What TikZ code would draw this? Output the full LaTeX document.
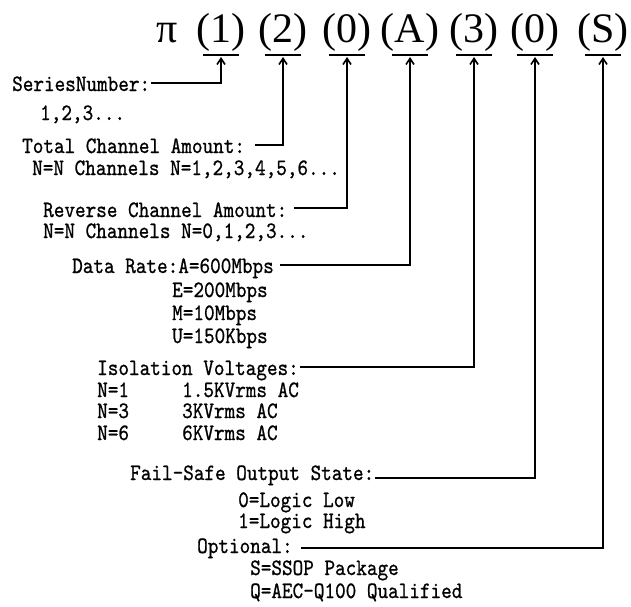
\documentclass[tikz,border=0pt]{standalone}
\usepackage{fontspec}
\setmainfont{Liberation Serif}
\newfontfamily\lblfont[FakeStretch=0.86,FakeBold=0.8]{lmmono10-regular.otf}
\usetikzlibrary{arrows.meta}
\tikzset{
  lbl/.style={anchor=base west, inner sep=0pt, font=\lblfont\fontsize{23.5}{23.5}\selectfont},
  head/.style={anchor=base, inner sep=0pt, font=\fontsize{42}{42}\selectfont},
  conn/.style={line width=1.9pt, -{Straight Barb[length=6pt,width=8pt,line width=1.6pt]}},
  uline/.style={line width=1.9pt},
}
\begin{document}
\begin{tikzpicture}[x=1pt,y=-1pt]
\useasboundingbox (0,0) rectangle (631,606);
% header
\node[head] (pi) at (167,42) {π};
\node[head] (g1) at (221,42) {(1)};
\node[head] (g2) at (283,42) {(2)};
\node[head] (g3) at (347,42) {(0)};
\node[head] (g4) at (410,42) {(A)};
\node[head] (g5) at (474,42) {(3)};
\node[head] (g6) at (535,42) {(0)};
\node[head] (g7) at (603,42) {(S)};
\foreach \i/\x in {1/221,2/283,3/347,4/410,5/474,6/535,7/603}{
  \coordinate (u\i) at (\x,57);
  \draw[uline] ([xshift=-18pt]g\i.base |- 0,55) -- ([xshift=18pt]g\i.base |- 0,55);
}
% labels
\node[lbl] (s1) at (12,91) {SeriesNumber:};
\node[lbl] (s1b) at (40,120) {1,2,3...};
\node[lbl] (s2) at (22,153) {Total Channel Amount:};
\node[lbl] (s2b) at (32,175) {N=N Channels N=1,2,3,4,5,6...};
\node[lbl] (s3) at (43,217) {Reverse Channel Amount:};
\node[lbl] (s3b) at (43,238) {N=N Channels N=0,1,2,3...};
\node[lbl] (s4) at (72,273) {Data Rate:A=600Mbps};
\node[lbl] (s4b) at (172,297) {E=200Mbps};
\node[lbl] (s4c) at (172,320) {M=10Mbps};
\node[lbl] (s4d) at (172,343) {U=150Kbps};
\node[lbl] (s5) at (97,375) {Isolation Voltages:};
\node[lbl] (s5b) at (97,397) {N=1};
\node[lbl] (s5c) at (97,418) {N=3};
\node[lbl] (s5d) at (97,440) {N=6};
\node[lbl] (v5b) at (182,397) {1.5KVrms AC};
\node[lbl] (v5c) at (182,418) {3KVrms AC};
\node[lbl] (v5d) at (182,440) {6KVrms AC};
\node[lbl] (s6) at (130,480) {Fail-Safe Output State:};
\node[lbl] (s6b) at (238,507) {0=Logic Low};
\node[lbl] (s6c) at (238,528) {1=Logic High};
\node[lbl] (s7) at (197,553) {Optional:};
\node[lbl] (s7b) at (250,575) {S=SSOP Package};
\node[lbl] (s7c) at (250,598) {Q=AEC-Q100 Qualified};
% connectors
\draw[conn] ([shift={(1,-8)}]s1.base east) -| (u1);
\draw[conn] ([shift={(10,-8)}]s2.base east) -| (u2);
\draw[conn] ([shift={(7,-9)}]s3.base east) -| (u3);
\draw[conn] ([shift={(6,-8)}]s4.base east) -| (u4);
\draw[conn] ([shift={(1,-8)}]s5.base east) -| (u5);
\draw[conn] ([shift={(1,-2)}]s6.base east) -| (u6);
\draw[conn] ([shift={(8,-5)}]s7.base east) -| (u7);
\end{tikzpicture}
\end{document}
